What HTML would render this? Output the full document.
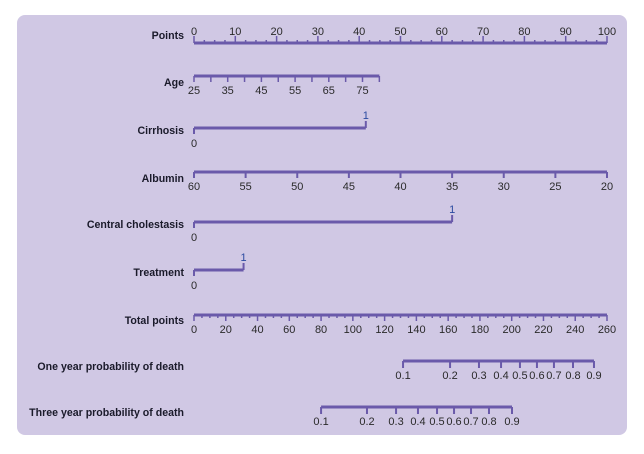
<!DOCTYPE html>
<html><head><meta charset="utf-8"><style>
body{margin:0;background:#fff;}
svg text{font-family:"Liberation Sans",sans-serif;}
</style></head><body>
<svg id="c" width="644" height="449" xmlns="http://www.w3.org/2000/svg">
<rect x="17" y="15" width="610" height="420" rx="8" fill="#d0c8e4"/>
</svg>
<script>
const pointsTicks=[0,10,20,30,40,50,60,70,80,90,100];
const ageTicks=[25,35,45,55,65,75];
const ageRange=[25,80];
const cirrhosisPoints=[0,41.6];
const albuminTicks=[60,55,50,45,40,35,30,25,20];
const cholestasisPoints=[0,62.5];
const treatmentPoints=[0,12];
const totalTicks=[0,20,40,60,80,100,120,140,160,180,200,220,240,260];
const probLabels=["0.1","0.2","0.3","0.4","0.5","0.6","0.7","0.8","0.9"];
const oneYearTotals=[131.6,161.2,179.4,193.3,205.2,215.9,226.6,238.6,251.8];
const threeYearTotals=[80,108.9,127.2,141,153,163.7,174.4,185.7,200.2];

const svg=document.getElementById('c');
const NS='http://www.w3.org/2000/svg';
const X0=194,X1=607,COL='#6a5aaa';
const px=p=>X0+(X1-X0)*p/100;
const tx=t=>X0+(X1-X0)*t/260;
function el(tag,a,name){const e=document.createElementNS(NS,tag);for(const k in a)e.setAttribute(k,a[k]);


svg.appendChild(e);return e;}
function line(x1,y1,x2,y2,w,name){return el('line',{x1,y1,x2,y2,stroke:COL,'stroke-width':w},name);}
function txt(x,y,s,name,opt){const e=el('text',Object.assign({x,y,'font-size':11,fill:'#2a2a2a','text-anchor':'middle'},opt||{}),name);e.textContent=s;return e;}
function label(y,s,name){txt(184,y,s,name,{'text-anchor':'end','font-weight':'bold','font-size':10.6,'fill':'#1a1a2a'});}

// Points
let y=43;label(y-4,'Points','points-label');
line(X0,y,X1,y,3,'points-axis');
for(let v=0;v<=100;v+=2.5){const maj=v%10===0;line(px(v),y,px(v),y-(maj?7:3),1.5,'points-tick');}
pointsTicks.forEach(v=>txt(px(v),y-8,String(v),'points-tick-label'));

// Age
const agePx=a=>X0+(a-ageRange[0])*3.37;
y=76;label(y+10,'Age','age-label');
line(agePx(ageRange[0]),y,agePx(ageRange[1]),y,3,'age-axis');
for(let a=ageRange[0];a<=ageRange[1];a+=5){line(agePx(a),y,agePx(a),y+6,1.5,'age-tick');}
ageTicks.forEach(a=>txt(agePx(a),y+18,String(a),'age-tick-label'));

function binary(y,pts,lbl,name){label(y+6,lbl,name+'-label');
line(px(pts[0]),y,px(pts[1]),y,3,name+'-axis');
line(px(pts[0]),y,px(pts[0]),y+6,2,name+'-tick');line(px(pts[1]),y,px(pts[1]),y-7,2,name+'-tick');
txt(px(pts[0]),y+19,'0',name+'-label-0');txt(px(pts[1]),y-9,'1',name+'-label-1',{fill:'#2a4aa0'});}
binary(128,cirrhosisPoints,'Cirrhosis','cirrhosis');

// Albumin
y=172;label(y+10,'Albumin','albumin-label');
line(X0,y,X1,y,3,'albumin-axis');
albuminTicks.forEach((v,i)=>{const x=X0+(X1-X0)*(60-v)/40;line(x,y,x,y+6,2,'albumin-tick');txt(x,y+18,String(v),'albumin-tick-label');});

binary(222,cholestasisPoints,'Central cholestasis','central-cholestasis');
binary(270,treatmentPoints,'Treatment','treatment');

// Total points
y=315;label(y+9,'Total points','total-points-label');
line(X0,y,X1,y,3,'total-points-axis');
for(let v=0;v<=260;v+=5){line(tx(v),y,tx(v),y+(v%20===0?6:3),1.5,'total-points-tick');}
totalTicks.forEach(v=>txt(tx(v),y+18,String(v),'total-points-tick-label'));

function prob(y,tots,lbl,name){label(y+9,lbl,name+'-label');
line(tx(tots[0]),y,tx(tots[tots.length-1]),y,3,name+'-axis');
tots.forEach((t,i)=>{line(tx(t),y,tx(t),y+7,2,name+'-tick');txt(tx(t),y+18,probLabels[i],name+'-tick-label');});}
prob(361,oneYearTotals,'One year probability of death','one-year-probability');
prob(407,threeYearTotals,'Three year probability of death','three-year-probability');
</script>
</body></html>
